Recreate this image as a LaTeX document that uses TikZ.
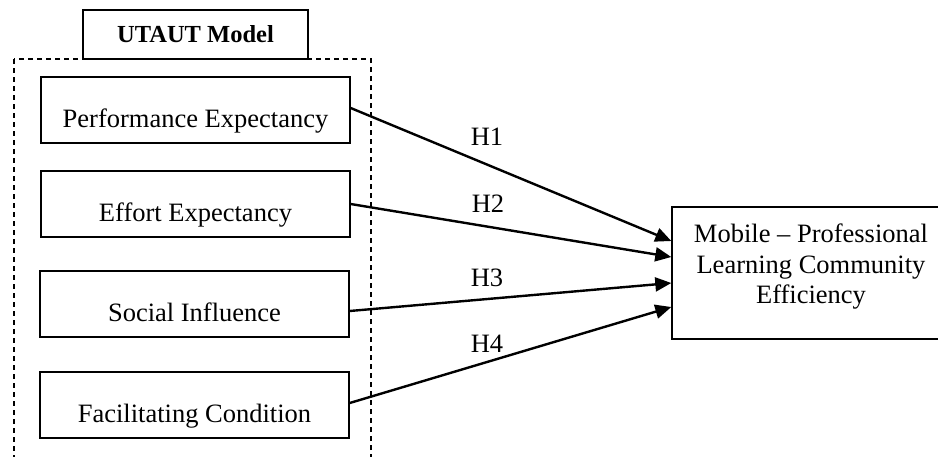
\documentclass[tikz,border=0pt]{standalone}
\usepackage{fontspec}
\setmainfont{Liberation Serif}
\usetikzlibrary{arrows.meta}
\begin{document}
\begin{tikzpicture}[x=1pt,y=-1pt,
  every node/.style={font=\fontsize{26.5}{30.5}\selectfont},
  frame/.style={draw,line width=1.3pt,dash pattern=on 5pt off 4pt},
  titlebox/.style={draw,fill=white,line width=1.4pt,minimum width=225pt,minimum height=49pt,inner sep=0pt,font=\bfseries\fontsize{24.5}{29}\selectfont},
  factor/.style={draw,line width=1.4pt,minimum width=309pt,minimum height=66pt,inner sep=0pt,text height=40pt,text depth=6pt},
  outcome/.style={draw,line width=1.4pt,minimum width=278pt,minimum height=132pt,inner sep=0pt},
  hyp/.style={inner sep=0pt},
  link/.style={line width=2.4pt,-{Triangle[length=16pt,width=14pt]}}]
\useasboundingbox (0,0) rectangle (938,456);
\clip (0,0) rectangle (938,456);
% dashed frame of the UTAUT model (continues below the picture)
\draw[frame] (14,59) rectangle (371,490);
\node[titlebox] (utaut) at (195.5,34.5) {UTAUT Model};
% factors
\node[factor] (pe) at (195.5,110) {Performance Expectancy};
\node[factor] (ee) at (195.5,204) {Effort Expectancy};
\node[factor] (si) at (194.5,304) {Social Influence};
\node[factor] (fc) at (194.5,405) {Facilitating Condition};
% outcome
\node[outcome] (mplc) at (811,273) {};
\node[align=center,inner sep=0pt] (mplctext) at (811,267) {Mobile -- Professional\\Learning Community\\Efficiency};
% hypotheses
\draw[link] ([yshift=2pt]pe.east) -- ([yshift=32pt]mplc.west);
\draw[link] (ee.east) -- ([yshift=16pt]mplc.west);
\draw[link] ([yshift=-7pt]si.east) -- ([yshift=-10pt]mplc.west);
\draw[link] ([yshift=2pt]fc.east) -- ([yshift=-34pt]mplc.west);
\node[hyp] (h1) at (487,137) {H1};
\node[hyp] (h2) at (488,204) {H2};
\node[hyp] (h3) at (487,278) {H3};
\node[hyp] (h4) at (487,344) {H4};
\end{tikzpicture}
\end{document}
